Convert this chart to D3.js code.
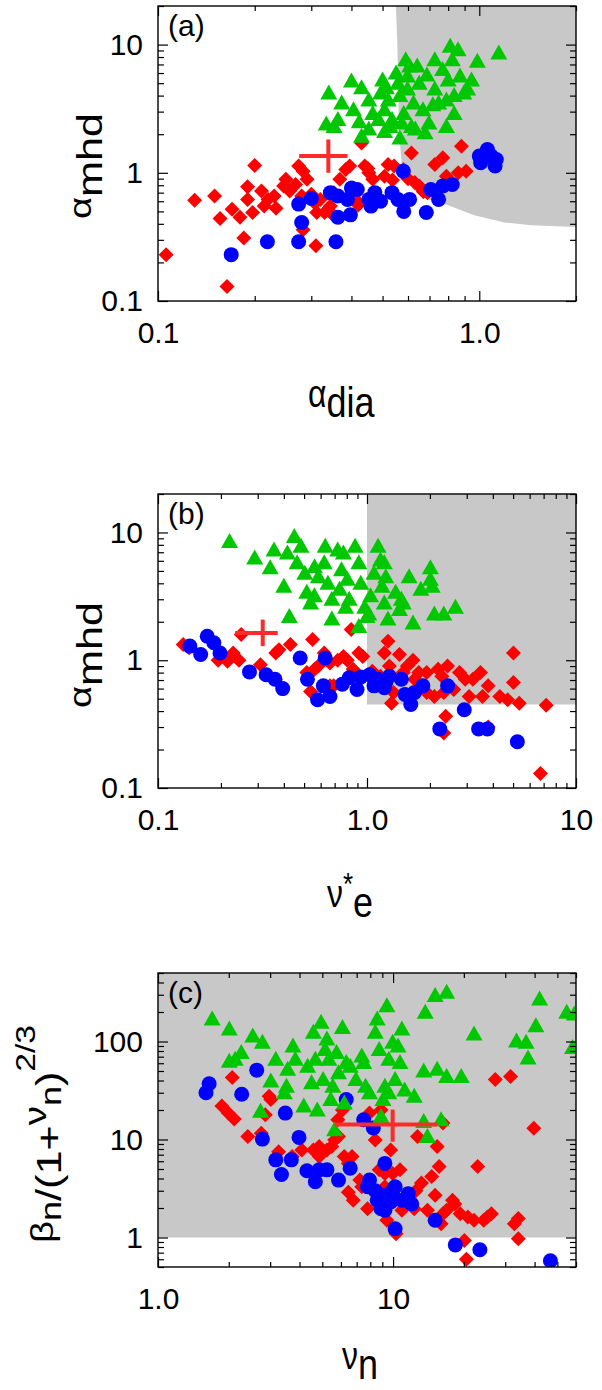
<!doctype html>
<html lang="en">
<head>
<meta charset="UTF-8" />
<script src="https://d3js.org/d3.v7.min.js"></script>
<title>alpha_mhd scatter panels</title>
<style>
  body { margin: 0; background: #fff; }
  svg { display: block; }
</style>
</head>
<body>
<div id="chart"></div>
<script>
// ---- panel (a): alpha_mhd vs alpha_dia ----
const aRed = [[0.106,0.23],[0.13,0.61],[0.15,0.66],[0.156,0.44],[0.164,0.13],[0.17,0.52],[0.18,0.45],[0.185,0.31],[0.19,0.78],[0.19,0.62],[0.2,1.14],[0.21,0.72],[0.197,0.49],[0.214,0.55],[0.22,0.62],[0.23,0.66],[0.233,0.53],[0.246,0.79],[0.25,0.89],[0.257,0.72],[0.268,0.81],[0.274,1.13],[0.283,1.03],[0.291,0.89],[0.3,0.68],[0.308,0.58],[0.312,0.49],[0.31,0.27],[0.32,0.62],[0.33,0.49],[0.344,0.55],[0.353,0.7],[0.368,0.89],[0.384,1.06],[0.395,1.13],[0.406,0.66],[0.423,0.58],[0.43,1.71],[0.44,1.13],[0.453,1.0],[0.466,0.89],[0.507,0.94],[0.52,1.16],[0.543,1.13],[0.58,1.06],[0.615,1.43],[0.63,0.84],[0.65,0.79],[0.727,1.16],[0.77,1.31],[0.79,0.94],[0.86,1.0],[0.88,1.61],[0.91,1.03],[0.283,0.36],[0.28,0.66],[0.353,0.46],[0.69,0.7],[0.6,0.9],[0.537,0.88],[0.67,0.71],[0.42,0.56],[0.45,1.08]]
const aBlue = [[0.169,0.23],[0.219,0.29],[0.274,0.29],[0.28,0.41],[0.274,0.57],[0.3,0.63],[0.344,0.7],[0.358,0.29],[0.363,0.45],[0.363,0.66],[0.389,0.62],[0.397,0.47],[0.4,0.76],[0.417,0.74],[0.453,0.62],[0.46,0.55],[0.473,0.7],[0.493,0.6],[0.535,0.7],[0.558,0.62],[0.582,0.5],[0.58,1.03],[0.607,0.62],[0.684,0.49],[0.707,0.74],[0.747,0.62],[0.77,0.79],[0.824,0.81],[1.01,1.2],[1.06,1.52],[1.09,1.35],[1.12,1.13],[1.13,1.27],[1.0,1.35]]
const aGreen = [[0.34,4.2],[0.4,5.2],[0.43,4.6],[0.373,3.5],[0.334,2.4],[0.353,2.3],[0.363,2.6],[0.406,3.1],[0.423,2.5],[0.453,3.7],[0.466,2.9],[0.486,2.6],[0.5,5.3],[0.514,4.6],[0.521,3.7],[0.528,2.3],[0.551,6.0],[0.558,5.0],[0.566,4.0],[0.566,1.87],[0.582,2.9],[0.59,7.6],[0.598,5.7],[0.598,4.5],[0.624,3.5],[0.632,2.2],[0.641,6.8],[0.65,5.0],[0.668,3.1],[0.687,5.8],[0.697,2.45],[0.727,7.6],[0.727,4.5],[0.747,3.5],[0.769,6.4],[0.79,2.3],[0.8,5.3],[0.812,9.7],[0.824,7.6],[0.835,4.0],[0.859,9.1],[0.871,5.7],[0.92,4.5],[0.946,5.3],[0.986,7.4],[1.15,8.6],[0.43,1.93],[0.507,2.1],[0.535,2.6],[0.493,4.2],[0.574,2.45],[0.615,2.3],[0.678,2.05],[0.717,3.4],[0.79,3.7],[0.835,2.9],[0.895,4.2],[0.453,2.2],[0.507,3.1],[0.607,6.8]]
const aCross = { x: 0.339, y: 1.35, xlo: 0.275, xhi: 0.389, ylo: 1.0, yhi: 1.82 }
// edge of the grey zone in (a), from the top down to the right border
const aGrayEdge = [[0.55,20],[0.556,10],[0.563,2.03],[0.577,0.99],[0.627,0.73],[0.707,0.61],[0.797,0.56],[0.965,0.466],[1.196,0.41],[1.45,0.39],[2.0,0.378],[2.0,20]]

// ---- panel (b): alpha_mhd vs nu*_e ----
const bRed = [[0.132,1.33],[0.141,1.25],[0.194,1.0],[0.215,0.98],[0.229,1.14],[0.244,1.0],[0.25,1.59],[0.309,0.92],[0.366,1.14],[0.379,1.21],[0.43,1.33],[0.549,1.45],[0.515,0.8],[0.537,0.57],[0.561,0.85],[0.585,0.9],[0.624,1.14],[0.665,0.95],[0.693,0.63],[0.724,1.0],[0.771,1.07],[0.805,1.0],[0.84,1.74],[0.858,0.85],[0.914,1.14],[0.955,1.07],[1.06,0.82],[1.16,0.75],[1.21,1.14],[1.26,1.41],[1.28,0.9],[1.34,0.56],[1.43,1.11],[1.49,0.8],[1.56,0.9],[1.66,1.0],[1.69,0.71],[1.77,0.8],[1.93,0.8],[2.1,0.52],[2.19,0.85],[2.28,0.75],[2.38,0.365],[2.43,0.9],[2.6,0.59],[2.77,0.8],[2.95,0.71],[3.08,0.52],[3.21,0.71],[3.49,0.8],[3.57,0.52],[3.8,0.63],[4.32,0.52],[4.71,0.49],[5.02,0.67],[5.02,1.14],[5.35,0.46],[7.2,0.445],[6.76,0.13],[3.8,0.3],[2.33,0.27],[1.31,0.46],[1.93,0.56],[0.665,0.63],[2.33,0.56]]
const bBlue = [[0.142,1.29],[0.16,1.11],[0.172,1.54],[0.185,1.37],[0.198,1.14],[0.274,0.81],[0.329,0.77],[0.363,0.71],[0.395,0.6],[0.479,1.04],[0.519,0.71],[0.58,0.49],[0.618,0.63],[0.631,1.04],[0.665,0.52],[0.762,0.65],[0.822,0.73],[0.896,0.59],[0.934,0.74],[1.03,0.77],[1.08,0.63],[1.21,0.61],[1.28,0.75],[1.46,0.71],[1.52,0.54],[1.62,0.45],[1.69,0.56],[1.85,0.63],[2.23,0.29],[2.43,0.63],[2.92,0.41],[3.42,0.29],[3.77,0.29],[5.24,0.23],[1.13,0.71],[1.23,0.67]]
const bGreen = [[0.22,8.5],[0.29,6.3],[0.344,5.3],[0.359,7.3],[0.4,3.8],[0.416,6.9],[0.425,2.2],[0.449,9.3],[0.463,5.8],[0.483,7.8],[0.504,4.8],[0.515,3.4],[0.537,2.8],[0.561,5.4],[0.585,4.5],[0.624,5.8],[0.631,7.8],[0.65,4.0],[0.679,3.0],[0.679,2.1],[0.724,7.3],[0.739,3.6],[0.755,5.1],[0.771,6.9],[0.805,4.3],[0.822,3.0],[0.877,7.8],[0.914,5.8],[0.914,1.84],[0.934,4.0],[0.975,2.6],[1.0,2.2],[1.04,3.2],[1.08,4.8],[1.13,7.8],[1.16,6.1],[1.18,3.8],[1.21,2.8],[1.23,4.5],[1.26,2.1],[1.37,3.4],[1.43,2.5],[1.49,2.8],[1.59,4.5],[1.66,1.96],[1.81,3.6],[2.01,5.3],[2.05,3.8],[2.1,2.3],[2.33,2.3],[2.65,2.6],[1.21,5.8],[0.79,2.6],[0.56,3.2],[1.02,2.3],[1.46,3.0],[2.01,4.3]]
const bCross = { x: 0.317, y: 1.63, xlo: 0.234, xhi: 0.374, ylo: 1.29, yhi: 2.08 }
const bGrayBox = [[1,0.45],[10,0.45],[10,20],[1,20]]

// ---- panel (c): beta_n/(1+nu_n)^2/3 vs nu_n ----
const cRed = [[2.07,43],[1.87,22],[1.99,18.6],[2.11,16.2],[2.41,10.7],[2.97,27.7],[3.02,25.6],[2.86,17.9],[2.75,11.6],[3.26,7.5],[3.72,6.7],[4.09,7.8],[4.58,7.8],[4.85,8.5],[5.23,7.8],[5.48,8.5],[5.64,9.9],[5.82,15.9],[6.09,20],[6.2,6.7],[6.45,5.7],[6.69,6.7],[6.45,2.9],[6.77,2.4],[7.22,3.85],[7.79,1.97],[8.4,9.9],[8.73,4.9],[9.23,4.5],[9.41,1.5],[9.77,7.8],[9.96,4.5],[10.3,1.09],[10.7,4.9],[10.9,1.9],[11.6,2.6],[12.3,1.97],[12.7,10.7],[13.2,3.6],[14.0,1.9],[14.6,4.2],[15.1,2.7],[15.4,8.5],[15.7,5.3],[16.0,1.38],[16.3,14.7],[16.9,1.9],[17.9,2.4],[19.3,1.75],[20.1,0.93],[20.8,1.62],[22.1,1.5],[22.9,5.3],[24.3,1.5],[25.2,1.62],[26.2,1.75],[27.2,41],[31.6,44],[32.8,1.38],[34.1,1.56],[34.1,0.97],[39.7,13],[20.5,0.6],[7.94,18.6],[8.89,20],[5.86,10.7],[9.23,3.3],[12.5,3.0],[4.85,6.7],[7.36,3.3],[16.3,1.75],[18.3,2.2]]
const cBlue = [[1.6,30],[1.65,37],[2.27,29],[2.63,51],[2.78,10.1],[3.48,18.6],[3.17,6.2],[3.35,4.4],[3.69,6.2],[3.98,10.5],[4.3,4.8],[4.67,3.7],[4.85,4.9],[5.23,4.9],[5.86,3.85],[6.32,25.6],[6.57,5.1],[7.5,15.9],[7.79,3.3],[7.94,3.85],[8.24,13.1],[8.4,3.0],[8.56,2.4],[8.89,1.97],[9.23,5.7],[9.41,2.7],[9.77,2.3],[9.96,3.0],[10.2,3.3],[10.9,2.4],[11.6,2.8],[12.0,2.2],[10.2,1.23],[15.1,1.5],[18.4,0.84],[23.4,0.75],[46.7,0.58],[9.23,1.9],[8.89,2.7]]
const cGreen = [[1.7,170],[2.01,134],[2.01,63],[2.13,66],[2.26,77],[2.53,114],[2.78,98],[2.73,19.4],[3.02,39.5],[3.17,66],[3.45,30],[3.52,35],[3.56,52],[3.75,90],[3.84,66],[4.17,22],[4.33,56],[4.5,38],[4.58,124],[4.67,66],[4.76,20],[4.94,157],[5.04,41],[5.14,83],[5.23,106],[5.33,66],[5.43,25.6],[5.64,12.6],[5.75,77],[5.86,48],[6.09,139],[6.2,23.6],[6.32,61],[6.57,56],[6.95,41],[7.5,61],[7.64,35],[7.94,30],[8.4,124],[8.56,170],[8.73,83],[8.89,17.2],[9.06,25.6],[9.23,35],[9.41,232],[9.59,66],[9.96,98],[10.2,41],[10.5,90],[10.7,61],[10.9,134],[11.2,32],[12.3,27.7],[13.5,15.3],[13.7,199],[14.0,10.7],[15.1,294],[16.0,15.9],[16.9,318],[16.9,44],[15.4,52],[13.5,50],[19.5,44],[22.1,119],[33.5,101],[36.8,98],[37.5,68],[40.5,145],[42,272],[54.8,199],[59,191],[58,87],[7.36,71],[9.59,30],[5.54,35]]
const cCross = { x: 9.96, y: 14.2, xlo: 5.64, xhi: 15.4, ylo: 9.5, yhi: 20.2 }
const cGrayBox = [[1,1],[60,1],[60,500],[1,500]]

// tick labels
const abYTicks = ["0.1", "1", "10"]
const cYTicks = ["1", "10", "100"]
const aXTicks = ["0.1", "1.0"]
const bXTicks = ["0.1", "1.0", "10"]
const cXTicks = ["1.0", "10"]

const FONT = "'Liberation Sans', Arial, Helvetica, sans-serif"
const RED = "#ff0000", BLUE = "#0000ff", GREEN = "#00c800", GRAY = "#c8c8c8", CROSS = "#ff2a2a"
const LEFT = 158, RIGHT = 576

const svg = d3.select("#chart").append("svg")
    .attr("width", 602)
    .attr("height", 1390)
    .attr("font-family", FONT)

const isMajor = v => Math.abs(Math.log10(v) - Math.round(Math.log10(v))) < 1e-9

function drawPanel(p) {
    const x = d3.scaleLog().domain(p.xDomain).range([LEFT, RIGHT])
    const y = d3.scaleLog().domain(p.yDomain).range([p.bottom, p.top])
    const g = svg.append("g")

    // clip marks to the frame
    g.append("clipPath").attr("id", "clip-" + p.id)
        .append("rect")
        .attr("x", LEFT).attr("y", p.top)
        .attr("width", RIGHT - LEFT).attr("height", p.bottom - p.top)

    const plot = g.append("g").attr("clip-path", `url(#clip-${p.id})`)

    // grey zone
    plot.append("path")
        .attr("d", d3.line().x(d => x(d[0])).y(d => y(d[1]))(p.gray) + "Z")
        .attr("fill", GRAY)

    // red diamonds, blue circles, green triangles
    plot.selectAll(".red").data(p.red).enter().append("path")
        .attr("transform", d => `translate(${x(d[0])},${y(d[1])})`)
        .attr("d", "M0,-7.5L7.5,0L0,7.5L-7.5,0Z")
        .attr("fill", RED)

    plot.selectAll(".blue").data(p.blue).enter().append("circle")
        .attr("cx", d => x(d[0]))
        .attr("cy", d => y(d[1]))
        .attr("r", 7.5)
        .attr("fill", BLUE)

    plot.selectAll(".green").data(p.green).enter().append("path")
        .attr("transform", d => `translate(${x(d[0])},${y(d[1])})`)
        .attr("d", "M0,-8.5L8.5,6.5L-8.5,6.5Z")
        .attr("fill", GREEN)

    // error cross
    const c = p.cross
    plot.append("line")
        .attr("x1", x(c.xlo)).attr("x2", x(c.xhi))
        .attr("y1", y(c.y)).attr("y2", y(c.y))
        .attr("stroke", CROSS).attr("stroke-width", 4)
    plot.append("line")
        .attr("x1", x(c.x)).attr("x2", x(c.x))
        .attr("y1", y(c.ylo)).attr("y2", y(c.yhi))
        .attr("stroke", CROSS).attr("stroke-width", 4)

    // ticks on all four sides, pointing inward
    const xt = x.ticks(), yt = y.ticks()
    const xMin = xt.filter(v => !isMajor(v)), xMaj = xt.filter(isMajor)
    const yMin = yt.filter(v => !isMajor(v)), yMaj = yt.filter(isMajor)

    const addAxis = (axis, tr) => {
        const a = g.append("g")
            .attr("transform", tr)
            .call(axis)
            .attr("font-family", FONT)
            .attr("font-size", 30)
        a.select(".domain").remove()
        a.selectAll("line").attr("stroke-width", 1.2)
        return a
    }
    const bottomT = `translate(0,${p.bottom})`, topT = `translate(0,${p.top})`
    const leftT = `translate(${LEFT},0)`, rightT = `translate(${RIGHT},0)`

    addAxis(d3.axisBottom(x).tickValues(xMin).tickSize(-5).tickFormat(""), bottomT)
    addAxis(d3.axisBottom(x).tickValues(xMaj).tickSize(-10).tickPadding(21)
        .tickFormat((d, i) => p.xLabels[i]), bottomT)
    addAxis(d3.axisTop(x).tickValues(xMin).tickSize(-5).tickFormat(""), topT)
    addAxis(d3.axisTop(x).tickValues(xMaj).tickSize(-10).tickFormat(""), topT)
    addAxis(d3.axisLeft(y).tickValues(yMin).tickSize(-6).tickFormat(""), leftT)
    addAxis(d3.axisLeft(y).tickValues(yMaj).tickSize(-10).tickPadding(15)
        .tickFormat((d, i) => p.yLabels[i]), leftT)
    addAxis(d3.axisRight(y).tickValues(yMin).tickSize(-6).tickFormat(""), rightT)
    addAxis(d3.axisRight(y).tickValues(yMaj).tickSize(-10).tickFormat(""), rightT)

    // frame
    g.append("rect")
        .attr("x", LEFT).attr("y", p.top)
        .attr("width", RIGHT - LEFT).attr("height", p.bottom - p.top)
        .attr("fill", "none").attr("stroke", "#000").attr("stroke-width", 1.4)

    // panel tag
    g.append("text")
        .attr("x", LEFT + 10).attr("y", p.top + 30)
        .attr("font-size", 30)
        .text(p.tag)
}

// axis titles: greek letters smaller and raised, text a bit tall
function xTitle(x0, base, parts) {
    const t = svg.append("g")
        .attr("transform", `translate(${x0},${base}) scale(1,1.2)`)
        .append("text")
    parts.forEach(q => t.append("tspan").attr("font-size", q.s).attr("dy", q.dy).text(q.t))
}

function yTitle(bx, cy, parts) {
    const t = svg.append("g")
        .attr("transform", `translate(${bx},${cy}) scale(1,1.2) rotate(-90)`)
        .append("text")
        .attr("text-anchor", "middle")
    parts.forEach(q => t.append("tspan").attr("font-size", q.s).attr("dy", q.dy).text(q.t))
}

drawPanel({ id: "a", tag: "(a)", top: 6, bottom: 301, xDomain: [0.1, 2], yDomain: [0.1, 20],
    red: aRed, blue: aBlue, green: aGreen, cross: aCross, gray: aGrayEdge,
    xLabels: aXTicks, yLabels: abYTicks })
drawPanel({ id: "b", tag: "(b)", top: 494, bottom: 788, xDomain: [0.1, 10], yDomain: [0.1, 20],
    red: bRed, blue: bBlue, green: bGreen, cross: bCross, gray: bGrayBox,
    xLabels: bXTicks, yLabels: abYTicks })
drawPanel({ id: "c", tag: "(c)", top: 973, bottom: 1267, xDomain: [1, 60], yDomain: [0.5, 500],
    red: cRed, blue: cBlue, green: cGreen, cross: cCross, gray: cGrayBox,
    xLabels: cXTicks, yLabels: cYTicks })

xTitle(308, 417, [{ t: "α", s: 32, dy: -8 }, { t: "dia", s: 36, dy: 8 }])
xTitle(327, 917, [{ t: "ν", s: 32, dy: -8 }, { t: "*", s: 26, dy: -10 }, { t: "e", s: 36, dy: 18 }])
xTitle(342, 1379, [{ t: "ν", s: 32, dy: -8 }, { t: "n", s: 36, dy: 8 }])

yTitle(102, 166, [{ t: "α", s: 32, dy: -11 }, { t: "mhd", s: 36, dy: 11 }])
yTitle(102, 655, [{ t: "α", s: 32, dy: -11 }, { t: "mhd", s: 36, dy: 11 }])
yTitle(61, 1134, [{ t: "β", s: 32, dy: -8 }, { t: "n", s: 30, dy: 8 }, { t: "/(1+", s: 36, dy: 0 },
    { t: "ν", s: 32, dy: -15 }, { t: "n", s: 30, dy: 15 }, { t: ")", s: 36, dy: 0 },
    { t: "2/3", s: 28, dy: -26 }])
</script>
</body>
</html>
